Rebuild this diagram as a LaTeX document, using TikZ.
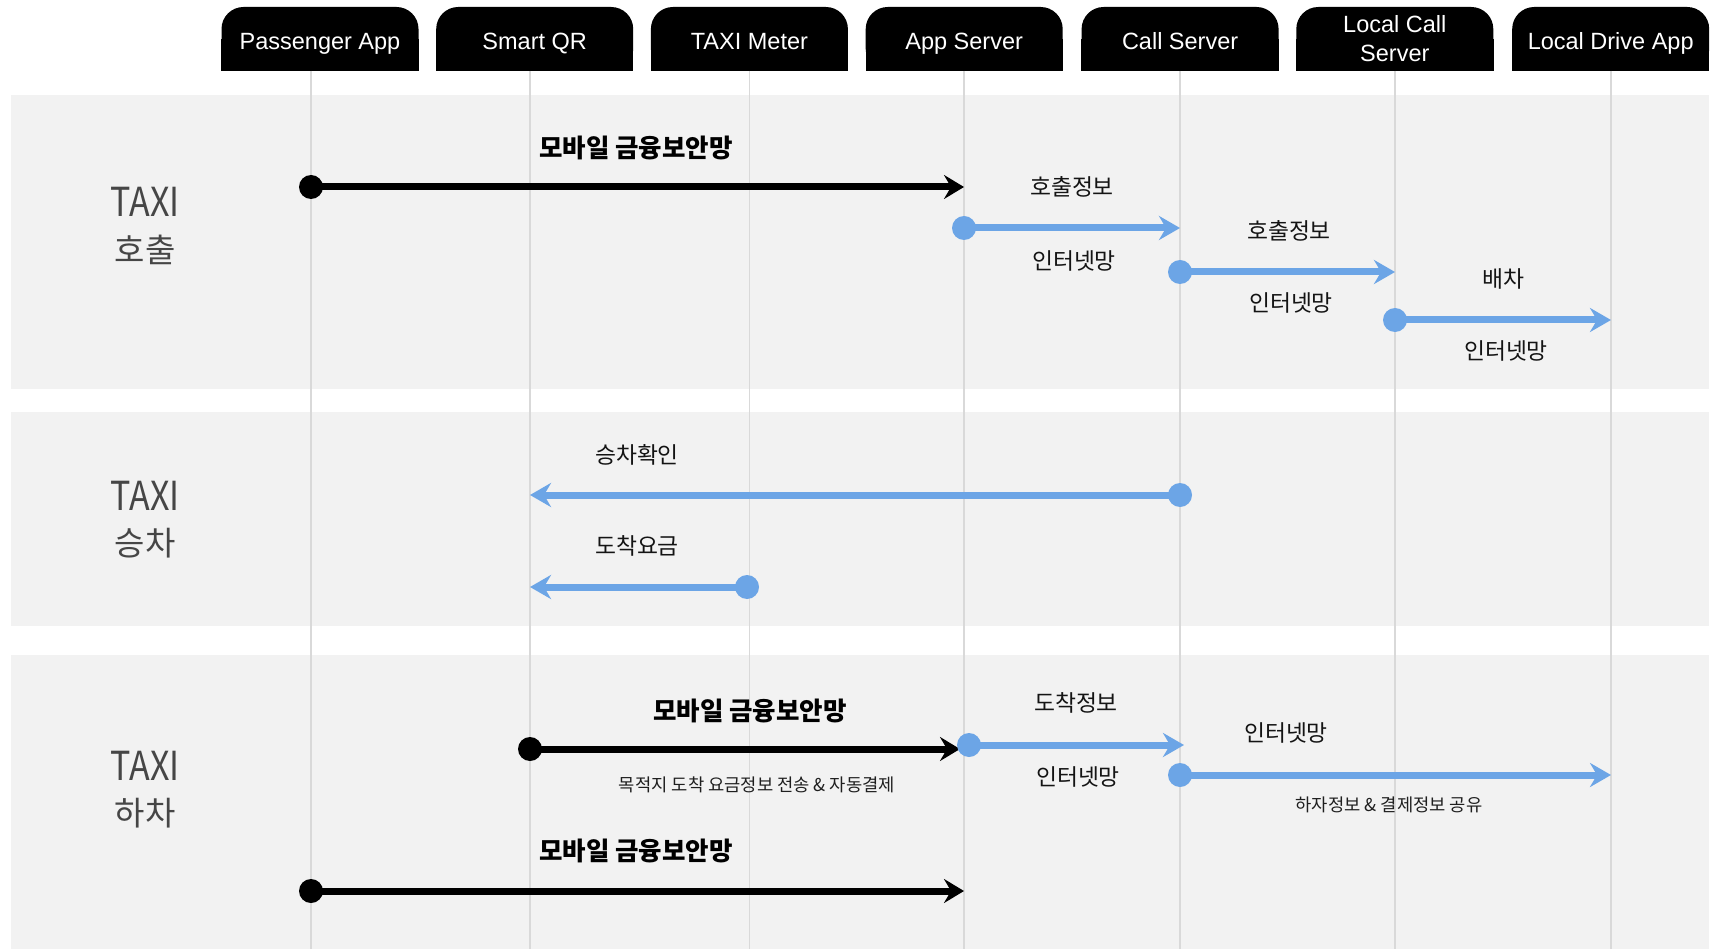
\documentclass[tikz,border=0pt]{standalone}
\usepackage{fontspec}
\setmainfont{Noto Sans CJK KR}
\newfontfamily\hdrfont{Liberation Sans}
\usetikzlibrary{arrows.meta}
\pgfdeclarelayer{bg}
\pgfsetlayers{bg,main}
\definecolor{bandgray}{HTML}{F2F2F2}
\definecolor{lifegray}{HTML}{D9D9D9}
\definecolor{msgblue}{HTML}{6CA5E6}
\definecolor{rowtext}{HTML}{464646}
\begin{document}
\begin{tikzpicture}[x=1pt,y=-1pt,
  hdrbase/.style={fill=black, rounded corners=22pt, text=white, minimum width=197pt,
    minimum height=64pt, inner sep=0pt, align=center,
    font=\hdrfont\fontsize{23.5}{29}\selectfont},
  hdr/.style={hdrbase, text height=20.6pt, text depth=0pt},
  life/.style={draw=lifegray, line width=1.2pt},
  blk/.style={black, line width=7pt, -{Stealth[length=20pt,width=24pt,inset=7pt]}},
  blu/.style={msgblue, line width=7pt, -{Stealth[length=21pt,width=24pt,inset=7pt]}},
  dotk/.style={circle, fill=black, minimum size=24pt, inner sep=0pt},
  dotb/.style={circle, fill=msgblue, minimum size=24pt, inner sep=0pt},
  lbl/.style={inner sep=0pt, text=black!92, font=\fontsize{22.8}{26}\selectfont},
  boldlbl/.style={inner sep=0pt, text=black, font=\bfseries\fontsize{25.5}{29}\selectfont},
  small/.style={inner sep=0pt, text=black!88, font=\fontsize{17.7}{21}\selectfont},
  rowlat/.style={inner sep=0pt, text=rowtext, font=\fontsize{40}{44}\selectfont},
  rowkor/.style={inner sep=0pt, text=rowtext, font=\fontsize{33}{38}\selectfont}
]
\useasboundingbox (0,0) rectangle (1718,949);

% bands
\fill[bandgray] (11,95) rectangle (1709,389);
\fill[bandgray] (11,412) rectangle (1709,626);
\fill[bandgray] (11,655) rectangle (1709,949);

% headers
\node[hdr] (h1) at (320,39) {Passenger App};
\node[hdr] (h2) at (534.7,39) {Smart QR};
\node[hdr] (h3) at (749.4,39) {TAXI Meter};
\node[hdr] (h4) at (964.2,39) {App Server};
\node[hdr] (h5) at (1180.1,39) {Call Server};
\node[hdrbase] (h6) at (1394.8,39) {\raisebox{-2pt}{Local Call}\\\raisebox{-2pt}{Server}};
\node[hdr] (h7) at (1610.7,39) {Local Drive App};
\begin{pgfonlayer}{bg}
  \foreach \h in {h1,h2,h3,h4,h5,h6,h7}
    \fill[black] (\h.west) rectangle (\h.south east);
\end{pgfonlayer}

% lifelines
\coordinate (L1) at (311,71);
\coordinate (L2) at (530,71);
\coordinate (L3) at (749.5,71);
\coordinate (L4) at (964,71);
\coordinate (L5) at (1180,71);
\coordinate (L6) at (1395,71);
\coordinate (L7) at (1611,71);
\foreach \l in {L1,L2,L3,L4,L5,L6,L7}
  \draw[life] (\l) -- (\l |- 0,949);

% row labels
\node[rowlat] (r1a) at (145,202) {\scalebox{0.85}[1]{TAXI}};
\node[rowkor] (r1b) at (145,250) {호출};
\node[rowlat] (r2a) at (145,496) {\scalebox{0.85}[1]{TAXI}};
\node[rowkor] (r2b) at (145,543) {승차};
\node[rowlat] (r3a) at (145,766) {\scalebox{0.85}[1]{TAXI}};
\node[rowkor] (r3b) at (145,813) {하차};

% ---- TAXI 호출
\node[boldlbl] (m1) at (636,148) {모바일 금융보안망};
\node[dotk] (a1) at (L1 |- 0,187) {};
\draw[blk] (a1.center) -- (L4 |- a1.center);
\node[lbl] (t1) at (1072,187) {호출정보};
\node[dotb] (a2) at (L4 |- 0,228) {};
\draw[blu] (a2.center) -- (L5 |- a2.center);
\node[lbl] (t2) at (1074,261) {인터넷망};
\node[lbl] (t3) at (1289,231) {호출정보};
\node[dotb] (a3) at (L5 |- 0,272) {};
\draw[blu] (a3.center) -- (L6 |- a3.center);
\node[lbl] (t4) at (1291,303) {인터넷망};
\node[lbl] (t5) at (1503,279) {배차};
\node[dotb] (a4) at (L6 |- 0,320) {};
\draw[blu] (a4.center) -- (L7 |- a4.center);
\node[lbl] (t6) at (1506,351) {인터넷망};

% ---- TAXI 승차
\node[lbl] (t7) at (637,455) {승차확인};
\node[dotb] (b1) at (L5 |- 0,495) {};
\draw[blu] (b1.center) -- (L2 |- b1.center);
\node[lbl] (t8) at (637,546) {도착요금};
\node[dotb] (b2) at (747,587) {};
\draw[blu] (b2.center) -- (L2 |- b2.center);

% ---- TAXI 하차
\node[boldlbl] (m2) at (750,711) {모바일 금융보안망};
\node[dotk] (c1) at (L2 |- 0,749) {};
\draw[blk] (c1.center) -- ([xshift=-4pt]L4 |- c1.center);
\node[small] (s1) at (757,785) {목적지 도착 요금정보 전송 \& 자동결제};
\node[lbl] (t9) at (1076,703) {도착정보};
\node[dotb] (c2) at (969,745) {};
\draw[blu] (c2.center) -- ([xshift=4pt]L5 |- c2.center);
\node[lbl] (t10) at (1078,777) {인터넷망};
\node[lbl] (t11) at (1286,733) {인터넷망};
\node[dotb] (c3) at (L5 |- 0,775) {};
\draw[blu] (c3.center) -- (L7 |- c3.center);
\node[small] (s2) at (1389,805) {하자정보 \& 결제정보 공유};
\node[boldlbl] (m3) at (636,851) {모바일 금융보안망};
\node[dotk] (c4) at (L1 |- 0,891) {};
\draw[blk] (c4.center) -- (L4 |- c4.center);
\end{tikzpicture}
\end{document}
